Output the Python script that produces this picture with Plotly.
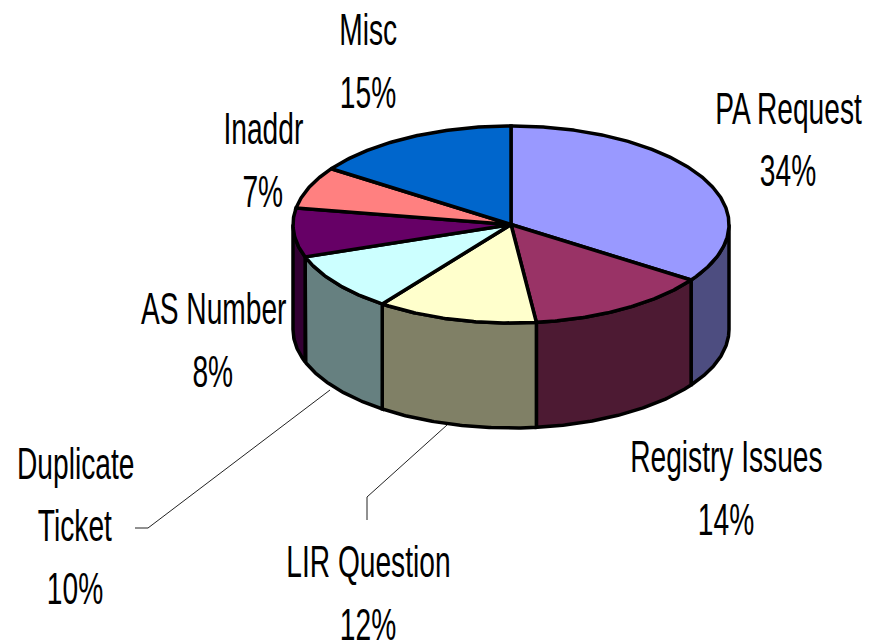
import numpy as np
import plotly.graph_objects as go

# Data (unrounded shares estimated from the slice geometry; labels show the rounded figures)
categories = ["PA Request", "Registry Issues", "LIR Question", "Duplicate Ticket", "AS Number", "Inaddr", "Misc"]
values = [34.49, 13.6, 11.9, 9.6, 8.0, 6.9, 15.4]
top_colors = ["#9999FF", "#993366", "#FFFFCC", "#CCFFFF", "#660066", "#FF8080", "#0066CC"]
wall_colors = ["#4D4D80", "#4D1A33", "#808066", "#668080", "#330033", "#804040", "#003366"]

label_lines = [
    (["PA Request", "34%"], 788, [108, 170]),
    (["Registry Issues", "14%"], 726, [456, 519]),
    (["LIR Question", "12%"], 368, [561, 624]),
    (["Duplicate", "Ticket", "10%"], 75, [463, 525, 588]),
    (["AS Number", "8%"], 213, [308, 371]),
    (["Inaddr", "7%"], 263, [128, 191]),
    (["Misc", "15%"], 368, [29, 92]),
]
leaders = [([330, 148, 135], [390, 528, 528]), ([447, 367, 367], [425, 497, 520])]

W, H = 882, 644
CX, CY, RX, RY, DEPTH = 511, 224.5, 218, 98.5, 105
FONT = "Liberation Sans, Arial, sans-serif"
TEXT_SQUEEZE = 0.64

POST_SCRIPT = """
document.body.style.margin = '0';
document.querySelectorAll('.annotation-text').forEach(function (t) {
  var x = parseFloat(t.getAttribute('x')) || 0;
  t.setAttribute('transform', 'translate(' + x + ',0) scale(%s,1) translate(' + (-x) + ',0)');
});
""" % TEXT_SQUEEZE


def ellipse(a0, a1, dy=0):
    """Clockwise angles in degrees from twelve o'clock."""
    t = np.radians(np.linspace(a0, a1, max(int(abs(a1 - a0)) * 2, 2)))
    return CX + RX * np.sin(t), CY + dy - RY * np.cos(t)


fig = go.Figure()
edges = np.concatenate([[0], np.cumsum(values)]) * 360 / sum(values)
line = dict(color="black", width=3.5)

# Visible side walls: the front half of the disc, 90 to 270 degrees
for i, name in enumerate(categories):
    a0, a1 = max(edges[i], 90), min(edges[i + 1], 270)
    if a1 <= a0:
        continue
    x0, y0 = ellipse(a0, a1)
    x1, y1 = ellipse(a1, a0, DEPTH)
    fig.add_trace(go.Scatter(
        x=np.r_[x0, x1, x0[0]], y=np.r_[y0, y1, y0[0]], mode="lines",
        fill="toself", fillcolor=wall_colors[i], line=line, hoverinfo="skip",
    ))

# Top slices
for i, name in enumerate(categories):
    x0, y0 = ellipse(edges[i], edges[i + 1])
    fig.add_trace(go.Scatter(
        x=np.r_[CX, x0, CX], y=np.r_[CY, y0, CY], mode="lines", name=name,
        fill="toself", fillcolor=top_colors[i], line=line,
    ))

# Leader lines
for lx, ly in leaders:
    fig.add_trace(go.Scatter(x=lx, y=ly, mode="lines", line=dict(color="#222222", width=1), hoverinfo="skip"))

# Labels
for lines, x, ys in label_lines:
    for text, y in zip(lines, ys):
        fig.add_annotation(x=x, y=y, text=text, showarrow=False, xanchor="center", yanchor="middle",
                           font=dict(family=FONT, size=44, color="black"))

fig.update_layout(
    width=W, height=H, autosize=False, showlegend=False,
    margin=dict(l=0, r=0, t=0, b=0), paper_bgcolor="white", plot_bgcolor="white",
    xaxis=dict(range=[0, W], visible=False, fixedrange=True),
    yaxis=dict(range=[H, 0], visible=False, fixedrange=True),
)
fig.write_html("out.html", config={"displayModeBar": False}, post_script=POST_SCRIPT)
